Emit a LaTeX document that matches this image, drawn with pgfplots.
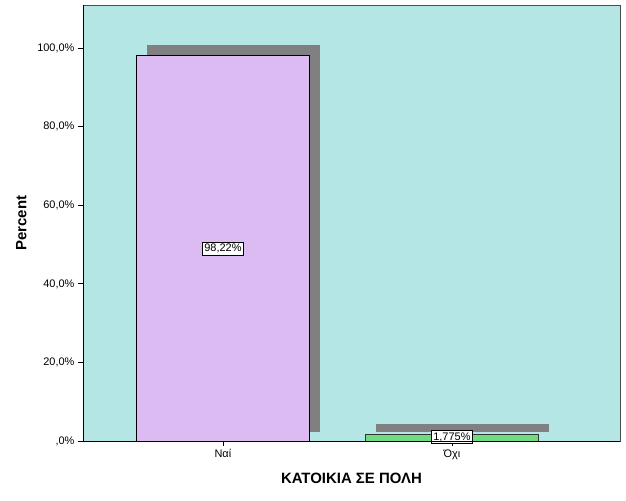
\documentclass[border=0pt]{standalone}
\usepackage{pgfplots}
\pgfplotsset{compat=1.18}
\usepackage{fontspec}
\setmainfont{Liberation Sans}
\usetikzlibrary{calc}
\definecolor{bgcyan}{RGB}{180,230,230}
\definecolor{lav}{RGB}{220,186,242}
\definecolor{grn}{RGB}{112,220,128}
\definecolor{shad}{RGB}{128,128,128}
\begin{document}
\begin{tikzpicture}[x=1bp,y=1bp]
\begin{axis}[
  name=ax,
  scale only axis,
  width=537bp, height=436bp,
  xmin=-0.611, xmax=1.734,
  ymin=0, ymax=111,
  axis background/.style={fill=bgcyan},
  axis line style={black!70, line width=0.8pt},
  xtick={0,1}, xticklabels={Ναί,Όχι},
  ytick={0,20,40,60,80,100},
  yticklabels={{,0\%},{20,0\%},{40,0\%},{60,0\%},{80,0\%},{100,0\%}},
  xtick pos=bottom, ytick pos=left,
  tick style={black, line width=0.8pt},
  tick align=outside,
  major tick length=5bp,
  ticklabel style={font=\fontsize{11}{13}\selectfont},
  xlabel={\textbf{ΚΑΤΟΙΚΙΑ ΣΕ ΠΟΛΗ}},
  ylabel={\textbf{Percent}},
  label style={font=\fontsize{15}{17}\selectfont},
  xlabel style={yshift=-7bp},
  ylabel style={yshift=4bp},
  clip=false,
]
% shadows
\addplot[fill=shad, draw=none] coordinates {(-0.332,2.3)(0.424,2.3)(0.424,100.7)(-0.332,100.7)} -- cycle;
\addplot[fill=shad, draw=none] coordinates {(0.668,2.3)(1.424,2.3)(1.424,4.3)(0.668,4.3)} -- cycle;
% bars
\addplot[fill=lav, draw=black, line width=0.8pt] coordinates {(-0.376,0)(0.376,0)(0.376,98.22)(-0.376,98.22)} -- cycle;
\addplot[fill=grn, draw=black!80, line width=0.8pt] coordinates {(0.624,0)(1.376,0)(1.376,1.775)(0.624,1.775)} -- cycle;
% value labels
\node[draw=black, fill=white, inner sep=2bp, font=\fontsize{11}{13}\selectfont] at (axis cs:0,49.0) {98,22\%};
\node[draw=black, fill=white, inner sep=2bp, font=\fontsize{11}{13}\selectfont] at (axis cs:1,1.0) {1,775\%};
\draw[black, line width=0.8pt] (rel axis cs:0,0) -- (rel axis cs:1,0);
\draw[black, line width=0.8pt] (rel axis cs:0,0) -- (rel axis cs:0,1);
\end{axis}
\path[use as bounding box] ($(ax.south west)+(-83bp,-60bp)$) rectangle ($(ax.north east)+(6bp,5bp)$);
\end{tikzpicture}
\end{document}
